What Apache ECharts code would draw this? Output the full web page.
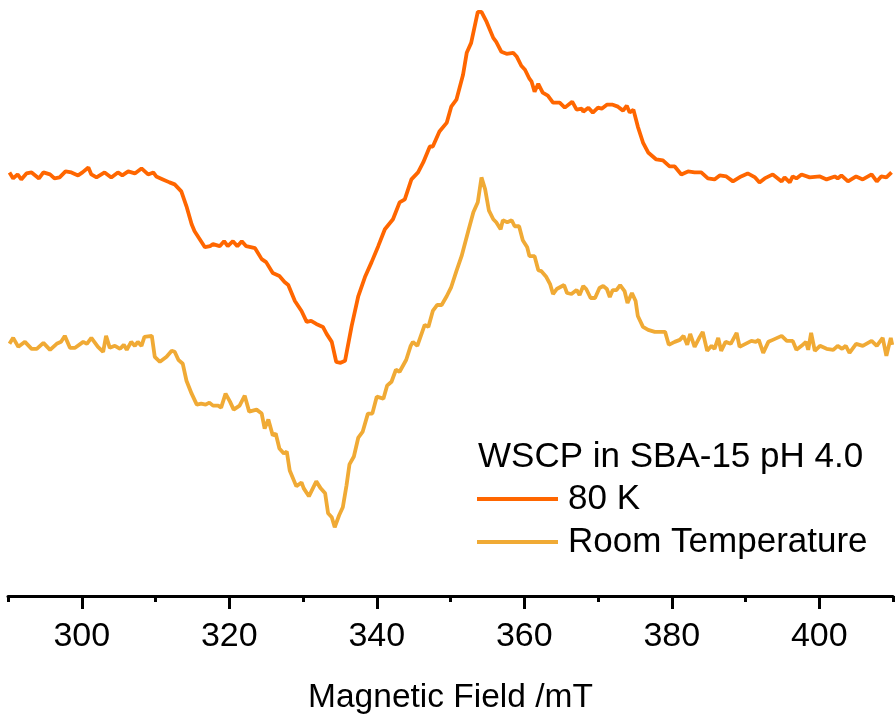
<!DOCTYPE html>
<html>
<head>
<meta charset="utf-8">
<script src="https://cdn.jsdelivr.net/npm/echarts@6/dist/echarts.min.js"></script>
<style>
  html, body { margin: 0; padding: 0; background: #fff; }
  #chart { width: 895px; height: 720px; }
</style>
</head>
<body>
<div id="chart"></div>
<script>
// magnetic field (mT) and derivative signal (a.u.)
var field80K = [
  290.2,290.7,291.3,291.8,292.5,293.2,294.2,294.8,295.7,296.3,
  297.0,297.8,298.6,299.5,300.1,300.9,301.3,302.0,303.1,304.0,
  304.9,305.5,306.3,307.2,308.1,309.0,309.7,310.1,311.0,311.9,
  312.6,313.5,314.2,314.9,315.3,316.0,316.7,317.4,317.8,318.7,
  319.3,319.8,320.5,321.1,321.7,322.3,323.5,324.4,325.0,325.9,
  326.8,327.5,328.0,328.9,329.8,330.5,331.1,331.8,332.7,333.2,
  333.9,334.5,335.1,335.7,336.6,337.5,338.4,339.3,340.2,341.1,
  342.2,343.1,343.8,344.7,345.6,346.3,347.2,347.6,348.5,349.5,
  350.1,350.8,351.7,352.2,352.8,353.7,354.2,354.9,355.8,356.2,
  356.9,357.6,358.5,359.0,359.6,360.1,360.7,361.0,361.4,361.9,
  362.5,363.2,363.9,364.8,365.5,366.5,367.1,367.8,368.0,368.7,
  369.3,370.0,370.5,371.2,372.0,372.7,373.4,373.9,374.3,374.8,
  375.4,376.1,376.8,377.9,378.8,379.7,380.4,381.3,382.2,383.1,
  384.0,384.9,385.8,386.5,387.4,388.3,389.4,390.3,391.3,391.9,
  392.6,393.7,394.9,395.3,396.0,396.4,396.9,397.6,398.7,400.1,
  401.0,402.1,402.5,403.0,403.9,405.0,405.9,407.1,407.8,408.4,
  409.1,409.8
];
var signal80K = [
  0.3,-0.3,0.1,-0.4,0.2,0.3,-0.3,0.3,0.1,-0.3,
  -0.2,0.4,0.3,0,0.3,0.8,0.1,-0.2,0.3,-0.2,
  0.3,0,0.4,0.2,0.7,0.1,0.3,-0.1,-0.4,-0.7,
  -0.9,-1.6,-3.1,-4.9,-5.6,-6.4,-7.2,-7.1,-6.9,-7.1,
  -6.6,-7.1,-6.6,-7.1,-6.6,-7.1,-7.3,-8.4,-8.7,-9.8,
  -10.1,-10.7,-11.0,-12.6,-13.6,-14.7,-14.6,-14.9,-15.2,-15.9,
  -16.7,-18.7,-18.8,-18.6,-15.1,-12.1,-10.2,-8.7,-7.1,-5.4,
  -4.4,-2.7,-2.4,-0.4,0.3,1.3,2.9,2.9,4.4,5.3,
  6.9,7.6,10.1,12.3,13.3,16.4,16.4,15.4,13.8,13.4,
  12.4,12.2,12.3,11.9,11.0,10.6,9.7,9.4,8.4,9.2,
  8.3,8.0,7.3,7.3,6.8,7.4,6.6,6.7,6.4,6.8,
  6.3,6.8,6.7,7.1,7.1,6.9,6.5,7.0,6.3,6.6,
  4.9,3.3,2.3,1.6,1.5,0.9,0.9,0.1,0.4,0.3,
  0.3,-0.3,-0.4,0,-0.1,-0.6,-0.1,0.2,-0.2,-0.7,
  -0.3,0.1,-0.6,-0.2,-0.7,-0.1,-0.3,0.1,-0.2,-0.1,
  -0.4,-0.1,-0.3,0,-0.6,-0.1,-0.4,0.1,-0.6,-0.1,
  -0.2,0.3
];
var fieldRT = [
  290.2,290.7,291.4,292.3,293.2,293.9,294.8,295.7,296.6,297.2,
  297.7,298.4,299.1,300.2,300.7,301.3,302.2,302.9,303.3,303.8,
  304.5,305.2,305.7,306.1,306.7,307.2,307.6,308.1,308.5,309.5,
  309.9,310.6,311.5,312.2,312.6,313.1,313.7,314.2,314.9,315.6,
  316.2,316.8,317.3,317.8,318.5,318.9,319.5,320.1,320.6,321.4,
  322.1,322.7,323.7,324.4,324.8,325.3,325.9,326.3,326.8,327.4,
  327.8,328.2,329.1,329.8,330.1,330.8,331.8,332.4,333.0,333.4,
  333.9,334.3,334.9,335.4,335.9,336.3,336.9,337.5,338.1,338.8,
  339.4,340.0,340.9,341.4,342.0,342.6,343.1,344.0,344.6,344.9,
  345.5,346.5,347.0,347.6,348.2,348.8,349.5,350.1,350.8,351.5,
  352.4,353.1,353.7,354.2,354.7,355.2,355.8,356.2,356.8,357.1,
  357.7,358.3,358.7,359.3,359.8,360.4,360.7,361.4,361.9,362.3,
  363.0,363.5,363.9,364.4,365.4,365.8,366.4,367.1,367.5,368.0,
  368.4,369.0,369.6,370.2,370.7,371.2,371.6,372.0,372.5,373.0,
  373.6,374.0,374.6,375.1,375.4,376.1,376.8,377.7,378.4,379.1,
  379.6,380.4,381.1,381.6,382.1,382.5,383.1,383.8,384.2,384.8,
  385.4,385.8,386.3,386.7,387.3,388.0,388.8,389.2,390.0,390.8,
  391.4,391.8,392.4,393.1,393.7,394.9,395.6,396.4,396.9,397.6,
  398.2,398.5,398.9,399.4,400.1,401.0,401.9,402.5,403.1,403.6,
  404.1,405.0,405.9,407.1,407.8,408.6,409.1,409.7,409.9
];
var signalRT = [
  0,0.6,-0.3,0.2,-0.5,-0.5,0.1,-0.6,0,0.2,
  0.8,-0.4,-0.4,0.2,0,0.6,-0.3,-0.8,0.8,-0.4,
  -0.2,-0.5,-0.1,-0.6,0.2,-0.2,0.2,-0.2,0.7,0.8,
  -1.3,-1.8,-1.3,-0.7,-0.8,-1.6,-2.0,-3.7,-5.0,-6.1,
  -6.0,-6.1,-5.9,-6.2,-6.2,-6.4,-5.0,-5.8,-6.6,-6.2,
  -5.2,-6.8,-6.6,-7.0,-8.5,-7.6,-9.2,-9.0,-10.5,-11.0,
  -10.8,-12.7,-14.3,-13.9,-14.5,-15.3,-13.8,-14.5,-15.0,-17.0,
  -17.4,-18.4,-17.2,-16.4,-14.2,-12.1,-11.3,-9.4,-8.8,-7.0,
  -7.0,-5.3,-5.5,-4.2,-3.8,-2.6,-2.8,-1.6,-0.2,0.2,
  -0.2,1.9,1.7,3.3,3.9,3.9,4.8,5.7,7.3,8.8,
  11.3,13.2,14.2,16.7,15.5,13.4,12.5,12.2,11.5,12.4,
  12.2,12.4,11.8,11.8,10.4,9.7,8.8,8.8,7.4,7.3,
  6.7,6.0,5.0,5.5,5.9,5.1,5.0,5.4,4.9,5.8,
  5.5,4.6,4.6,5.6,5.8,5.5,4.7,5.4,5.4,5.9,
  5.3,4.1,5.1,4.3,2.8,1.7,1.4,1.2,1.2,1.2,
  -0.1,0.2,0.4,0.8,-0.1,1.0,-0.3,0.7,1.2,-0.7,
  -0.2,-0.5,0.6,-0.7,0.2,0,1.1,-0.3,0,0.3,
  0.2,0.4,-0.9,0.2,0.4,0.8,0.3,0.3,-0.6,-0.2,
  0.2,-0.6,1.1,-0.7,-0.2,-0.5,-0.6,-0.2,-0.5,-0.2,
  -0.9,0,-0.2,0.3,-0.2,0.6,-1.2,0.6,-0.1
];
// stacked-plot offsets of each trace
var offset80K = 42.2;
var offsetRT = 25.3;

var majorTicks = [300, 320, 340, 360, 380, 400];
var minorTicks = [290, 310, 330, 350, 370, 390, 410];

var FONT = 'Liberation Sans, Arial, sans-serif';

function pairs(xs, ys, off) {
  return xs.map(function (x, i) { return [x, ys[i] + off]; });
}

var chart = echarts.init(document.getElementById('chart'));
chart.setOption({
  animation: false,
  backgroundColor: '#fff',
  title: {
    text: 'WSCP in SBA-15 pH 4.0',
    left: 478,
    top: 440,
    padding: 0,
    textStyle: { fontFamily: FONT, fontSize: 35, fontWeight: 'normal', color: '#000' }
  },
  legend: {
    data: ['80 K', 'Room Temperature'],
    orient: 'vertical',
    left: 477,
    top: 481,
    padding: 0,
    icon: 'rect',
    itemWidth: 81,
    itemHeight: 4,
    itemGap: 7,
    textStyle: { fontFamily: FONT, fontSize: 35, color: '#000', lineHeight: 36, padding: [0, 0, 0, 5] }
  },
  grid: { left: 8, right: 2, top: 0, bottom: 122, containLabel: false },
  xAxis: [
    {
      type: 'value',
      min: 290,
      max: 410,
      name: 'Magnetic Field /mT',
      nameLocation: 'middle',
      nameGap: 85,
      nameTextStyle: { fontFamily: FONT, fontSize: 33.5, color: '#000' },
      axisLine: { lineStyle: { color: '#000', width: 3 } },
      axisTick: { customValues: majorTicks, length: 13, lineStyle: { color: '#000', width: 3 } },
      axisLabel: { customValues: majorTicks, margin: 24, fontFamily: FONT, fontSize: 34, color: '#000' },
      splitLine: { show: false }
    },
    {
      type: 'value',
      min: 290,
      max: 410,
      position: 'bottom',
      axisLine: { show: false },
      axisTick: { customValues: minorTicks, length: 6, lineStyle: { color: '#000', width: 3 } },
      axisLabel: { show: false },
      splitLine: { show: false }
    }
  ],
  yAxis: { type: 'value', min: 0, max: 59.8, show: false },
  series: [
    {
      name: '80 K',
      type: 'line',
      xAxisIndex: 0,
      symbol: 'none',
      color: '#FF6600',
      lineStyle: { width: 3.8, color: '#FF6600' },
      data: pairs(field80K, signal80K, offset80K)
    },
    {
      name: 'Room Temperature',
      type: 'line',
      xAxisIndex: 0,
      symbol: 'none',
      color: '#F0AA35',
      lineStyle: { width: 3.8, color: '#F0AA35' },
      data: pairs(fieldRT, signalRT, offsetRT)
    }
  ]
});
</script>
</body>
</html>
